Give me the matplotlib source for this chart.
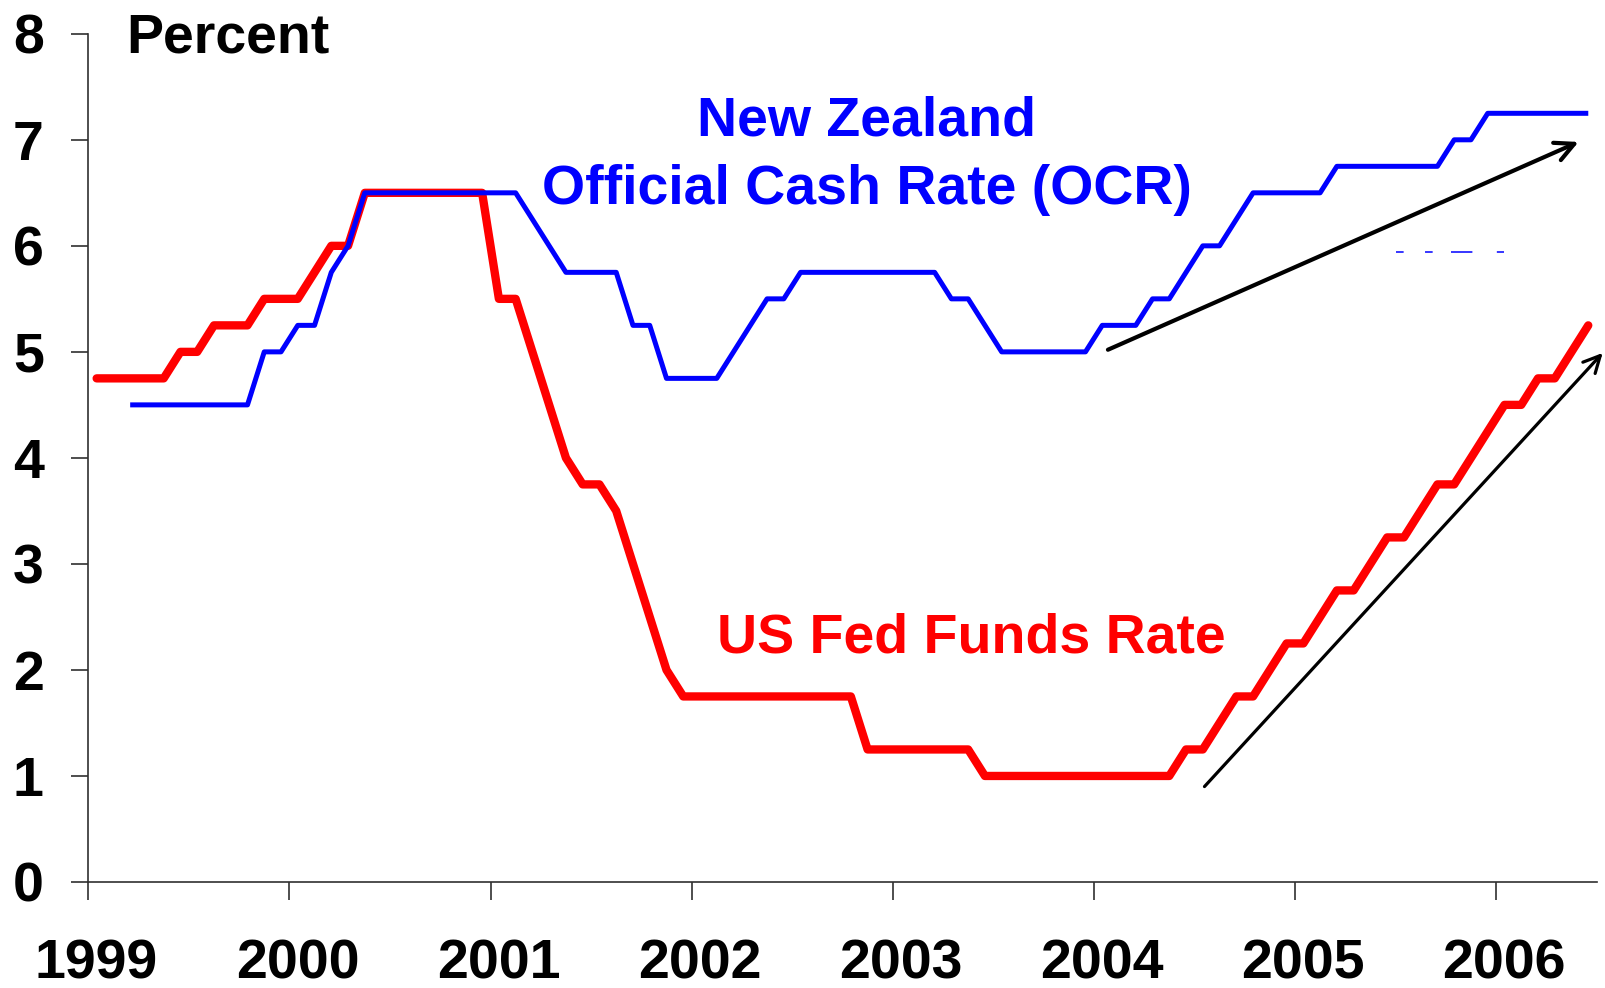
import matplotlib
matplotlib.use("Agg")
import matplotlib.pyplot as plt
import matplotlib.transforms as mtransforms
import numpy as np

# ---------------- data (monthly) ----------------
start_year = 1999
# US Fed Funds Rate, Jan 1999 .. Jun 2006
us_rate = [4.75, 4.75, 4.75, 4.75, 4.75, 5.0, 5.0, 5.25, 5.25, 5.25, 5.5, 5.5,
           5.5, 5.75, 6.0, 6.0, 6.5, 6.5, 6.5, 6.5, 6.5, 6.5, 6.5, 6.5,
           5.5, 5.5, 5.0, 4.5, 4.0, 3.75, 3.75, 3.5, 3.0, 2.5, 2.0, 1.75,
           1.75, 1.75, 1.75, 1.75, 1.75, 1.75, 1.75, 1.75, 1.75, 1.75, 1.25, 1.25,
           1.25, 1.25, 1.25, 1.25, 1.25, 1.0, 1.0, 1.0, 1.0, 1.0, 1.0, 1.0,
           1.0, 1.0, 1.0, 1.0, 1.0, 1.25, 1.25, 1.5, 1.75, 1.75, 2.0, 2.25,
           2.25, 2.5, 2.75, 2.75, 3.0, 3.25, 3.25, 3.5, 3.75, 3.75, 4.0, 4.25,
           4.5, 4.5, 4.75, 4.75, 5.0, 5.25]
us_start_month = 0
# New Zealand OCR, Mar 1999 .. Jun 2006
nz_rate = [4.5, 4.5, 4.5, 4.5, 4.5, 4.5, 4.5, 4.5, 5.0, 5.0,
           5.25, 5.25, 5.75, 6.0, 6.5, 6.5, 6.5, 6.5, 6.5, 6.5, 6.5, 6.5,
           6.5, 6.5, 6.25, 6.0, 5.75, 5.75, 5.75, 5.75, 5.25, 5.25, 4.75, 4.75,
           4.75, 4.75, 5.0, 5.25, 5.5, 5.5, 5.75, 5.75, 5.75, 5.75, 5.75, 5.75,
           5.75, 5.75, 5.75, 5.5, 5.5, 5.25, 5.0, 5.0, 5.0, 5.0, 5.0, 5.0,
           5.25, 5.25, 5.25, 5.5, 5.5, 5.75, 6.0, 6.0, 6.25, 6.5, 6.5, 6.5,
           6.5, 6.5, 6.75, 6.75, 6.75, 6.75, 6.75, 6.75, 6.75, 7.0, 7.0, 7.25,
           7.25, 7.25, 7.25, 7.25, 7.25, 7.25]
nz_start_month = 2

year_ticks = [1999, 2000, 2001, 2002, 2003, 2004, 2005, 2006]
y_ticks = [0, 1, 2, 3, 4, 5, 6, 7, 8]

# trend arrows (start, end) in data coordinates
nz_arrow = [(2004.07, 5.02), (2006.41, 6.98)]
us_arrow = [(2004.55, 0.90), (2006.53, 4.99)]


def month_x(start, n):
    return start_year + (start + np.arange(n) + 0.5) / 12.0


us_x = month_x(us_start_month, len(us_rate))
nz_x = month_x(nz_start_month, len(nz_rate))

# ---------------- figure ----------------
plt.rcParams['font.family'] = ['Liberation Sans', 'DejaVu Sans']
plt.rcParams['font.weight'] = 'bold'
FS = 40

fig = plt.figure(figsize=(16.05, 9.88), dpi=100)
ax = fig.add_axes([0.0550, 0.1073, 0.9398, 0.8585])

ax.plot(us_x, us_rate, color='#FF0000', lw=6.0, solid_capstyle='round',
        solid_joinstyle='round', zorder=3)
ax.plot(nz_x, nz_rate, color='#0000FF', lw=3.6, solid_capstyle='butt',
        solid_joinstyle='round', zorder=4)

# faint blue dashed remnant visible in the original
ax.plot([2005.50, 2006.04], [5.94, 5.94], color='#0000FF', lw=1.1,
        dashes=(5, 14, 5, 12, 14, 16), zorder=2)

ax.set_xlim(1999, 2006.5)
ax.set_ylim(0, 8)

ax.spines['top'].set_visible(False)
ax.spines['right'].set_visible(False)
for s in ('left', 'bottom'):
    ax.spines[s].set_color('#303030')
    ax.spines[s].set_linewidth(1.2)

ax.set_xticks(year_ticks)
ax.set_xticklabels([str(y) for y in year_ticks])
ax.set_yticks(y_ticks)
ax.set_yticklabels([str(v) for v in y_ticks])
ax.tick_params(axis='x', direction='out', length=13, width=1.2, color='#303030',
               pad=28, labelsize=FS)
ax.tick_params(axis='y', direction='out', length=12, width=1.2, color='#303030',
               pad=20, labelsize=FS)
offset = mtransforms.ScaledTranslation(8 / 100, 0, fig.dpi_scale_trans)
for lab in ax.get_xticklabels():
    lab.set_transform(lab.get_transform() + offset)
    lab.set_fontweight('bold')
for lab in ax.get_yticklabels():
    lab.set_fontweight('bold')

# texts
ax.text(1999.19, 7.82, 'Percent', fontsize=FS, fontweight='bold',
        ha='left', va='baseline', color='black')
ax.text(2002.87, 7.04, 'New Zealand', fontsize=FS, fontweight='bold',
        ha='center', va='baseline', color='#0000FF')
ax.text(2002.87, 6.39, 'Official Cash Rate (OCR)', fontsize=FS, fontweight='bold',
        ha='center', va='baseline', color='#0000FF')
ax.text(2003.39, 2.16, 'US Fed Funds Rate', fontsize=FS, fontweight='bold',
        ha='center', va='baseline', color='#FF0000')

# arrows
ax.annotate('', xy=nz_arrow[1], xytext=nz_arrow[0], annotation_clip=False,
            arrowprops=dict(arrowstyle='->', lw=3.0, color='black',
                            mutation_scale=34, shrinkA=0, shrinkB=0))
ax.annotate('', xy=us_arrow[1], xytext=us_arrow[0], annotation_clip=False,
            arrowprops=dict(arrowstyle='->', lw=2.3, color='black',
                            mutation_scale=30, shrinkA=0, shrinkB=0))

fig.savefig('out.png', dpi=100, facecolor='white')
